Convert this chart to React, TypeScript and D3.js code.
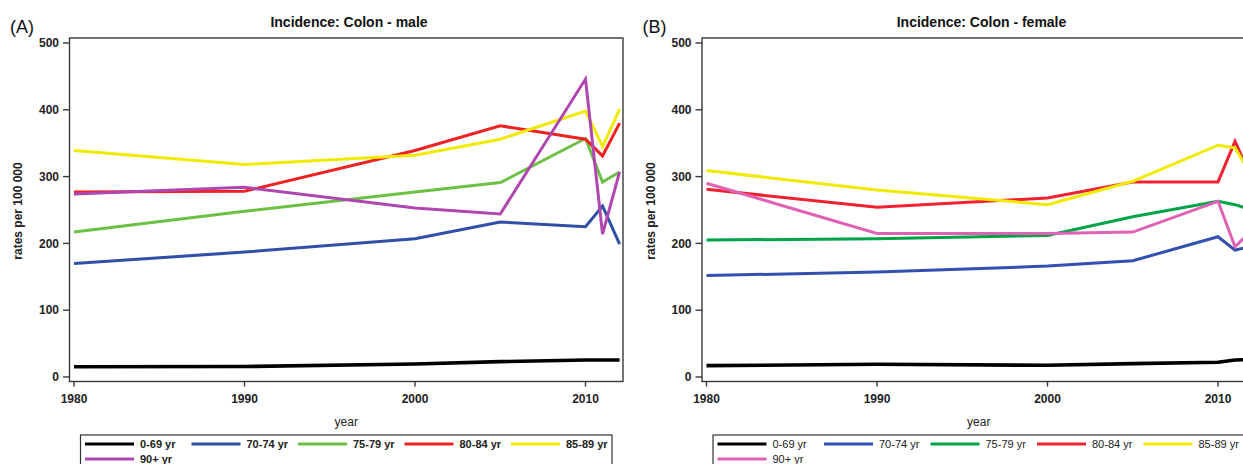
import React from "react";
import * as d3 from "d3";

const years = [1980, 1990, 2000, 2005, 2010, 2011, 2012];
const ageGroups = ["0-69 yr", "70-74 yr", "75-79 yr", "80-84 yr", "85-89 yr", "90+ yr"];
const xTicks = [1980, 1990, 2000, 2010];
const yTicks = [0, 100, 200, 300, 400, 500];

// Male (A)
const male0_69 = [15.4, 15.7, 19.5, 23, 25.4, 25.5, 25.5];
const male70_74 = [170, 187, 207, 232, 225, 256, 199];
const male75_79 = [217, 248, 277, 291, 357, 292, 307];
const male80_84 = [277, 278, 339, 376, 356, 331, 380];
const male85_89 = [339, 318, 332, 356, 398, 345, 401];
const male90 = [274, 284, 253, 244, 446, 214, 307];

// Female (B)
const female0_69 = [17, 19, 17.5, 20, 22, 25.5, 26];
const female70_74 = [152, 157, 166, 174, 210, 190, 196];
const female75_79 = [205, 207, 212, 240, 263, 258, 250];
const female80_84 = [281, 254, 268, 292, 292, 353, 295];
const female85_89 = [309, 280, 258, 293, 347, 343, 300];
const female90 = [290, 215, 215, 217, 263, 195, 220];

const maleColors = ["#000000", "#2f4fa8", "#6cc046", "#f02222", "#f2ea00", "#b046b0"];
const femaleColors = ["#000000", "#3150b0", "#00a448", "#f02232", "#f2ea00", "#e062b4"];

const FONT = "'Liberation Sans', Arial, Helvetica, sans-serif";

type PanelProps = {
  dx: number;
  tag: string;
  title: string;
  series: number[][];
  colors: string[];
  legendBold: boolean;
};

function Panel({ dx, tag, title, series, colors, legendBold }: PanelProps) {
  const x = d3.scaleLinear().domain([1980, 2010]).range([74 + dx, 585.5 + dx]);
  const y = d3.scaleLinear().domain([0, 500]).range([377, 43]);
  const frameL = 69.5 + dx;
  const frameR = 623 + dx;
  const frameT = 38;
  const frameB = 381.5;
  const line = d3
    .line<number>()
    .x((_, i) => x(years[i]))
    .y((v) => y(v));

  const legendL = 80.5 + dx;
  const legendR = 612 + dx;
  const legendT = 435;
  const pitch = 106.5;

  return (
    <g fontFamily={FONT}>
      <text x={10 + dx} y={33} fontSize={18} fill="#111">
        {tag}
      </text>
      <text x={349 + dx} y={27} fontSize={14} fontWeight="bold" textAnchor="middle" fill="#111">
        {title}
      </text>
      <rect
        x={frameL}
        y={frameT}
        width={frameR - frameL}
        height={frameB - frameT}
        fill="white"
        stroke="#3a3a3a"
        strokeWidth={1.4}
      />
      {yTicks.map((t) => (
        <g key={"y" + t}>
          <line x1={frameL - 6.5} x2={frameL} y1={y(t)} y2={y(t)} stroke="#3a3a3a" strokeWidth={1.4} />
          <text
            x={frameL - 10.5}
            y={y(t)}
            dy="0.35em"
            fontSize={12}
            fontWeight="bold"
            textAnchor="end"
            fill="#222"
          >
            {t}
          </text>
        </g>
      ))}
      {xTicks.map((t) => (
        <g key={"x" + t}>
          <line x1={x(t)} x2={x(t)} y1={frameB} y2={frameB + 5} stroke="#3a3a3a" strokeWidth={1.4} />
          <text x={x(t)} y={402.5} fontSize={12} fontWeight="bold" textAnchor="middle" fill="#222">
            {t}
          </text>
        </g>
      ))}
      <text x={(frameL + frameR) / 2} y={426} fontSize={12} textAnchor="middle" fill="#222">
        year
      </text>
      <text
        transform={`translate(${22 + dx},${211}) rotate(-90)`}
        fontSize={12}
        fontWeight="bold"
        textAnchor="middle"
        fill="#222"
      >
        rates per 100 000
      </text>
      <g>
        {series.map((s, i) => (
          <path
            key={"s" + i}
            d={line(s) || ""}
            fill="none"
            stroke={colors[i]}
            strokeWidth={i === 0 ? 3.6 : 3}
            strokeLinejoin="miter"
          />
        ))}
      </g>
      <rect
        x={legendL}
        y={legendT}
        width={legendR - legendL}
        height={40}
        fill="white"
        stroke="#333"
        strokeWidth={1.2}
      />
      {ageGroups.map((g, i) => {
        const row = i < 5 ? 0 : 1;
        const col = i < 5 ? i : 0;
        const sx = legendL + 4.5 + col * pitch;
        const sy = row === 0 ? 444 : 459;
        return (
          <g key={"l" + i}>
            <line x1={sx} x2={sx + 49} y1={sy} y2={sy} stroke={colors[i]} strokeWidth={3} />
            <text
              x={sx + 55}
              y={sy}
              dy="0.36em"
              fontSize={11}
              fontWeight={legendBold ? "bold" : "normal"}
              fill="#222"
            >
              {g}
            </text>
          </g>
        );
      })}
    </g>
  );
}

export default function App() {
  const maleSeries = [male0_69, male70_74, male75_79, male80_84, male85_89, male90];
  const femaleSeries = [female0_69, female70_74, female75_79, female80_84, female85_89, female90];
  return (
    <svg
      width={1243}
      height={464}
      style={{ position: "absolute", left: 0, top: 0, background: "white" }}
    >
      <rect x={0} y={0} width={1243} height={464} fill="white" />
      <Panel
        dx={0}
        tag="(A)"
        title="Incidence: Colon - male"
        series={maleSeries}
        colors={maleColors}
        legendBold={true}
      />
      <Panel
        dx={632.5}
        tag="(B)"
        title="Incidence: Colon - female"
        series={femaleSeries}
        colors={femaleColors}
        legendBold={false}
      />
    </svg>
  );
}
